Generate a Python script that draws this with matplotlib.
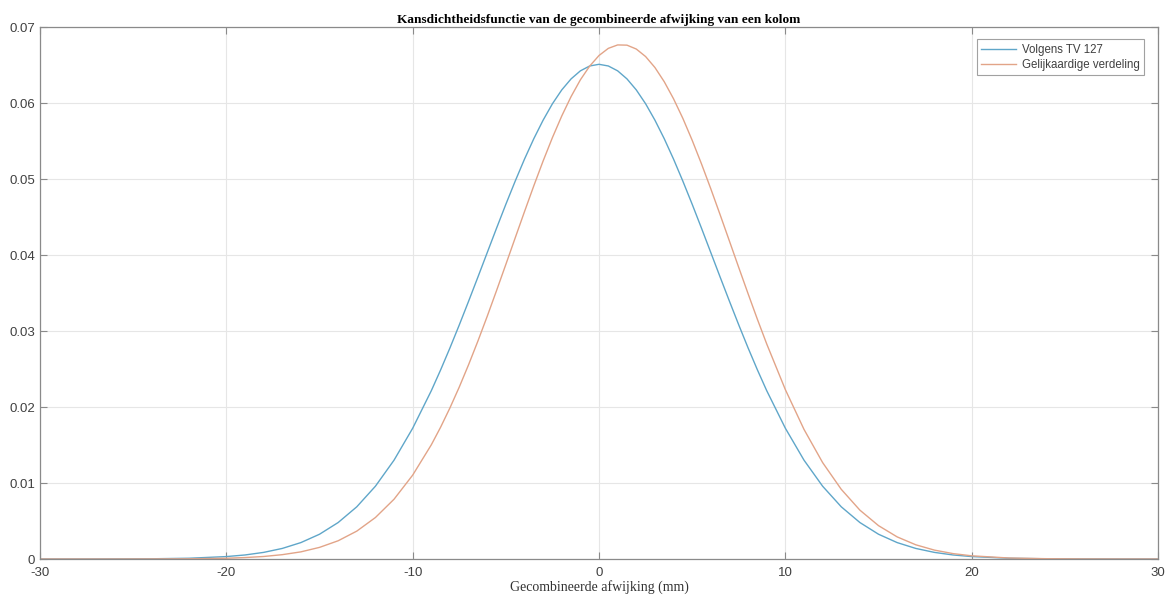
import matplotlib
matplotlib.use("Agg")
import matplotlib.pyplot as plt

# values
x_vals = [-30, -28, -26, -24, -22, -20, -19, -18, -17, -16, -15, -14, -13, -12, -11,
          -10, -9,
          -8.5, -8, -7.5, -7, -6.5, -6, -5.5, -5, -4.5, -4, -3.5, -3, -2.5, -2,
          -1.5, -1, -0.5, 0, 0.5, 1, 1.5, 2, 2.5, 3, 3.5, 4, 4.5, 5, 5.5, 6,
          6.5, 7, 7.5, 8, 8.5,
          9, 10, 11, 12, 13, 14, 15, 16, 17, 18, 19, 20, 22, 24, 26, 28, 30]

volgens_tv127 = [0, 0, 0.00001, 0.00003, 0.00010, 0.00032, 0.00053, 0.00087, 0.00139,
                 0.00216, 0.00326, 0.00480, 0.00687, 0.00958, 0.01301,
                 0.01721, 0.02215,
                 0.02489, 0.02778, 0.03080, 0.03392, 0.03710, 0.04032, 0.04353,
                 0.04668, 0.04972, 0.05262, 0.05531, 0.05775, 0.05991, 0.06173,
                 0.06318, 0.06424, 0.06488, 0.06510, 0.06488, 0.06424, 0.06318,
                 0.06173, 0.05991, 0.05775, 0.05531, 0.05262, 0.04972, 0.04668,
                 0.04353, 0.04032, 0.03710, 0.03392, 0.03080, 0.02778, 0.02489,
                 0.02215, 0.01721, 0.01301, 0.00958, 0.00687, 0.00480, 0.00326,
                 0.00216, 0.00139, 0.00087, 0.00053, 0.00032, 0.00010, 0.00003,
                 0.00001, 0, 0]

gelijkaardig = [0, 0, 0, 0.00001, 0.00003, 0.00010, 0.00019, 0.00033, 0.00057,
                0.00094, 0.00153, 0.00240, 0.00367, 0.00546, 0.00787,
                0.01104, 0.01503,
                0.01735, 0.01989, 0.02263, 0.02557, 0.02868, 0.03194, 0.03532,
                0.03877, 0.04225, 0.04571, 0.04911, 0.05238, 0.05546, 0.05830,
                0.06085, 0.06306, 0.06487, 0.06626, 0.06720, 0.06765, 0.06762,
                0.06711, 0.06612, 0.06468, 0.06281, 0.06056, 0.05798, 0.05510,
                0.05199, 0.04871, 0.04530, 0.04183, 0.03835, 0.03491, 0.03154,
                0.02830, 0.02229, 0.01706, 0.01269, 0.00917, 0.00643, 0.00439,
                0.00291, 0.00187, 0.00117, 0.00071, 0.00042, 0.00013, 0.00004,
                0.00001, 0, 0]

y_ticks = [0, 0.01, 0.02, 0.03, 0.04, 0.05, 0.06, 0.07]
y_labels = ["0", "0.01", "0.02", "0.03", "0.04", "0.05", "0.06", "0.07"]
x_ticks = [-30, -20, -10, 0, 10, 20, 30]

plt.rcParams['font.family'] = ['Liberation Sans', 'DejaVu Sans']
plt.rcParams['axes.unicode_minus'] = False

fig = plt.figure(figsize=(11.67, 5.95), dpi=100)
ax = fig.add_axes([0.0343, 0.0605, 0.958, 0.894])

ax.plot(x_vals, volgens_tv127, color='#5fa6c9', lw=1.0, label='Volgens TV 127')
ax.plot(x_vals, gelijkaardig, color='#e2a488', lw=1.0, label='Gelijkaardige verdeling')

ax.set_xlim(-30, 30)
ax.set_ylim(0, 0.07)
ax.set_xticks(x_ticks)
ax.set_yticks(y_ticks)
ax.set_yticklabels(y_labels)
ax.grid(True, color='#e6e6e6', lw=0.8)
ax.set_axisbelow(True)

ax.tick_params(direction='in', length=5, width=0.8, colors='#8a8a8a',
               labelcolor='#404040', labelsize=9.5, top=True, right=True)
ax.tick_params(axis='x', pad=6)
for s in ax.spines.values():
    s.set_color('#8a8a8a')
    s.set_linewidth(0.9)

ax.set_title('Kansdichtheidsfunctie van de gecombineerde afwijking van een kolom',
             family='Liberation Serif', fontweight='bold', fontsize=9.6, pad=3)
ax.set_xlabel('Gecombineerde afwijking (mm)', family='Liberation Serif',
              fontsize=10, labelpad=0.5, color='#333333')

leg = ax.legend(loc='upper right', bbox_to_anchor=(0.9875, 0.977), fontsize=8.3,
                frameon=True, fancybox=False, handlelength=3.0, handletextpad=0.5,
                borderpad=0.4, labelspacing=0.25, borderaxespad=0)
leg.get_frame().set_edgecolor('#8a8a8a')
leg.get_frame().set_linewidth(0.8)
for t in leg.get_texts():
    t.set_color('#404040')

fig.savefig('out.png', dpi=100)
